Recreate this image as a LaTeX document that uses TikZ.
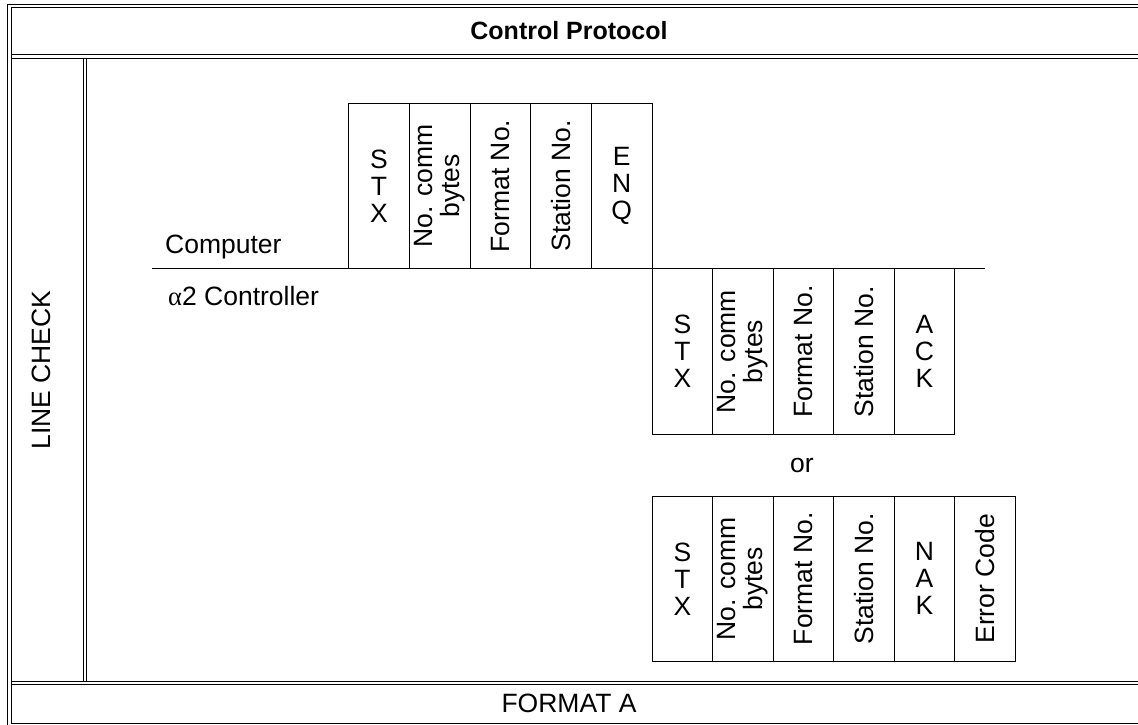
\documentclass[tikz,border=0pt]{standalone}
\usepackage{fontspec}
\setmainfont{Liberation Sans}
\newfontfamily\greekfont{Liberation Serif}
\begin{document}
\begin{tikzpicture}[x=1pt,y=-1pt,
  frame/.style={line width=1pt},
  cell/.style={draw, line width=0.9pt, minimum width=60.6pt, minimum height=165.7pt, inner sep=0pt, anchor=north west},
  txt/.style={font=\fontsize{26.5}{27}\selectfont, inner sep=0pt, align=center},
  vtxt/.style={txt, rotate=90},
  title/.style={font=\fontsize{25}{27}\selectfont\bfseries, inner sep=0pt}]
\useasboundingbox (0,0) rectangle (1138,724);
\clip (0,0) rectangle (1138,724);
% table frame
\draw[frame] (7.7,726) -- (7.7,4.5) -- (1142,4.5);
\draw[frame] (1142,7) -- (11.3,7) -- (11.3,723.3) -- (1142,723.3);
\draw[frame] (11.3,54) -- (1142,54);
\draw[frame] (11.3,58) -- (1142,58);
\draw[frame] (83.5,58) -- (83.5,681.7);
\draw[frame] (86,58) -- (86,681.7);
\draw[frame] (11.3,681.7) -- (1142,681.7);
\draw[frame] (11.3,684) -- (1142,684);
% titles
\node[title] (ttl) at (569,30.5) {Control Protocol};
\node[txt] (fmt) at (569,703.5) {FORMAT A};
\node[vtxt] (lc) at (41,370) {LINE CHECK};
% timeline
\coordinate (tl) at (152,268.3);
\coordinate (tr) at (985,268.3);
\draw[line width=0.9pt] (tl) -- (tr);
\node[txt, anchor=base west] (comp) at (165,253) {Computer};
\node[txt, anchor=base west] (ctrl) at (168,305) {{\greekfont α}2 Controller};
% row A: computer frame
\foreach \i in {0,...,4} \node[cell] (a\i) at ({348.3+60.67*\i},102.7) {};
\node[txt] at (a0) {S\\T\\X};
\node[vtxt] at (a1) {No. comm\\bytes};
\node[vtxt] at (a2) {Format No.};
\node[vtxt] at (a3) {Station No.};
\node[txt] at (a4) {E\\N\\Q};
% row B: ACK reply
\foreach \i in {0,...,4} \node[cell] (b\i) at ({651.7+60.52*\i},268.3) {};
\node[txt] at (b0) {S\\T\\X};
\node[vtxt] at (b1) {No. comm\\bytes};
\node[vtxt] at (b2) {Format No.};
\node[vtxt] at (b3) {Station No.};
\node[txt] at (b4) {A\\C\\K};
\node[txt] (or) at (802,465.5) {or};
% row C: NAK reply
\foreach \i in {0,...,5} \node[cell] (c\i) at ({651.7+60.52*\i},495.5) {};
\node[txt] at (c0) {S\\T\\X};
\node[vtxt] at (c1) {No. comm\\bytes};
\node[vtxt] at (c2) {Format No.};
\node[vtxt] at (c3) {Station No.};
\node[txt] at (c4) {N\\A\\K};
\node[vtxt] at (c5) {Error Code};
\end{tikzpicture}
\end{document}
